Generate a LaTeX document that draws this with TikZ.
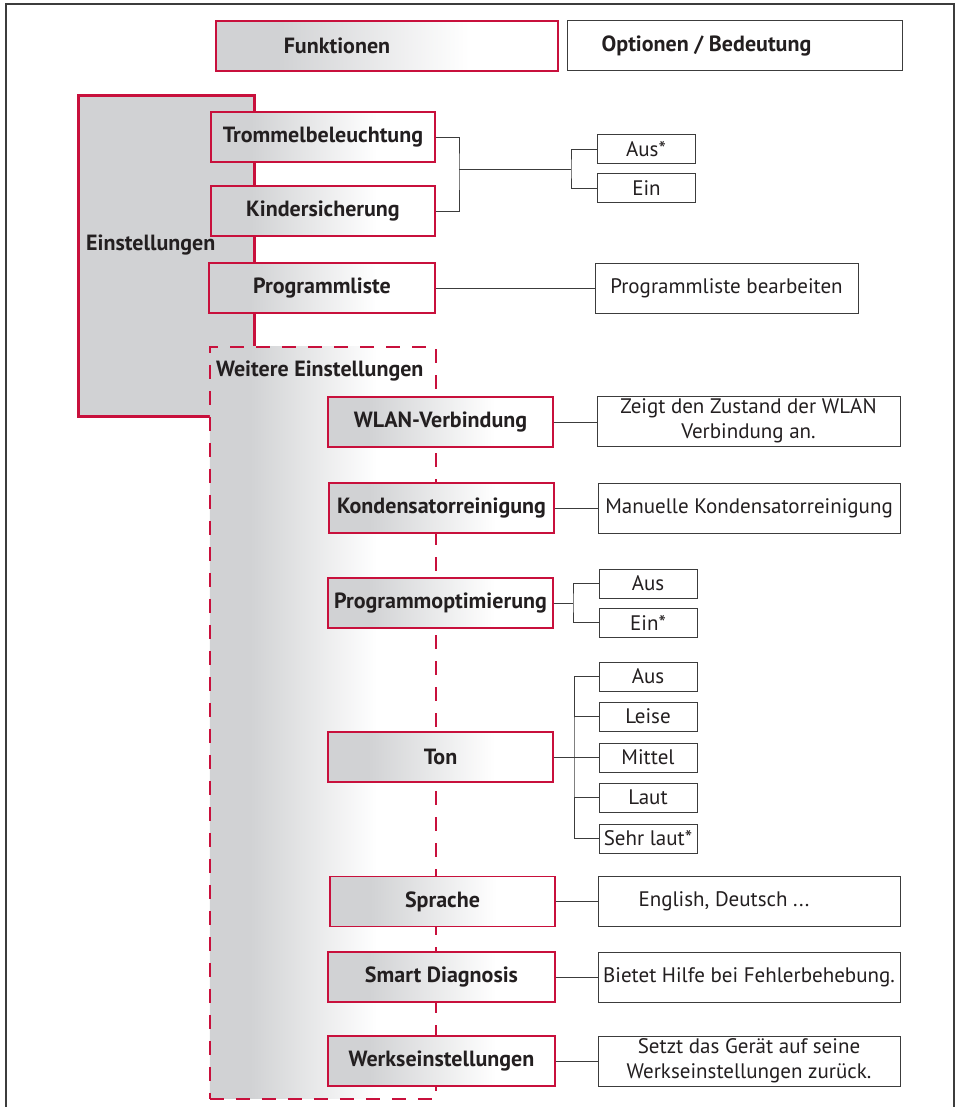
\documentclass[tikz,border=0pt]{standalone}
\usepackage{fontspec}
\setmainfont{PT Sans}
\definecolor{lgred}{RGB}{200,16,60}
\definecolor{lgray}{RGB}{209,210,212}
\definecolor{dgray}{RGB}{60,60,60}
\definecolor{txt}{RGB}{35,31,32}
\pgfdeclarehorizontalshading{boxgrad}{100bp}{color(0bp)=(lgray); color(34bp)=(lgray); color(62bp)=(white); color(100bp)=(white)}
\newcommand{\lgfs}{\fontsize{21}{25}\selectfont}
\newcommand{\lgfb}{\fontsize{22}{26}\selectfont\bfseries}
\begin{document}
\begin{tikzpicture}[x=1pt,y=-1pt,
  fbox/.style={shade, shading=boxgrad, draw=lgred, line width=1.4pt, minimum width=225pt, minimum height=50pt, inner sep=0pt, font=\lgfb, text=txt},
  obox/.style={fill=white, draw=dgray, line width=1pt, minimum width=302pt, minimum height=50pt, inner sep=0pt, font=\lgfs, text=txt, align=center},
  sbox/.style={obox, minimum width=98pt, minimum height=29pt},
  conn/.style={draw=dgray, line width=0.9pt}]
\useasboundingbox (0,0) rectangle (959,1107);
\fill[white] (0,0) rectangle (959,1107);
% outer frame
\draw[dgray, line width=1.5pt] (6,1107) -- (6,4) -- (954,4) -- (954,1107);
% header
\node[fbox, minimum width=342pt] (hfun) at (387,46) {Funktionen\hspace*{100pt}};
\node[obox, font=\lgfb, minimum width=335pt] (hopt) at (734.5,46) {Optionen / Bedeutung\hspace*{56pt}};
% Einstellungen
\node[draw=lgred, line width=3pt, fill=lgray, minimum width=176pt, minimum height=321pt, anchor=north west, inner sep=0pt] (einst) at (77,94) {};
\node[anchor=west, font=\lgfb, text=txt, inner sep=0pt] (einstlbl) at (86,245) {Einstellungen};
% Weitere Einstellungen (dashed)
\node[shade, shading=boxgrad, draw=lgred, line width=1.5pt, dash pattern=on 14pt off 12pt, minimum width=226pt, minimum height=752pt, anchor=north west, inner sep=0pt] (weit) at (209,346) {};
\node[anchor=west, font=\lgfb, text=txt, inner sep=0pt] (weitlbl) at (216,371) {Weitere Einstellungen};
% function boxes
\node[fbox, minimum width=224pt] (trom) at (323,137) {Trommelbeleuchtung};
\node[fbox, minimum width=224pt] (kind) at (323,211) {Kindersicherung};
\node[fbox, minimum width=226pt] (prog) at (322,288) {Programmliste};
\node[fbox] (wlan) at (440.5,422) {WLAN-Verbindung};
\node[fbox] (kond) at (441.5,508) {Kondensatorreinigung};
\node[fbox] (popt) at (440.5,603) {Programmoptimierung};
\node[fbox] (ton) at (440.5,757) {Ton};
\node[fbox] (spr) at (442.5,901.5) {Sprache};
\node[fbox, minimum width=227pt] (smd) at (441.5,977) {Smart Diagnosis};
\node[fbox, minimum width=227pt] (wrk) at (441.5,1061) {Werkseinstellungen};
% option boxes
\node[sbox] (aus1) at (646,149.5) {Aus*};
\node[sbox] (ein1) at (646.5,188.5) {Ein};
\node[obox, minimum width=263pt] (plb) at (726.5,288) {Programmliste bearbeiten};
\node[obox, minimum width=303pt] (wlanT) at (748.5,421) {Zeigt den Zustand der WLAN\\Verbindung an.};
\node[obox] (kondT) at (749,508) {Manuelle Kondensatorreinigung};
\node[sbox] (pa) at (648,583.5) {Aus};
\node[sbox] (pe) at (648,622.5) {Ein*};
\node[sbox] (t1) at (648,676.5) {Aus};
\node[sbox] (t2) at (648,716.5) {Leise};
\node[sbox] (t3) at (648,757.5) {Mittel};
\node[sbox] (t4) at (648,797.5) {Laut};
\node[sbox] (t5) at (648,838.5) {Sehr laut*};
\node[obox] (sprT) at (749,901) {English, Deutsch ...\hspace*{50pt}};
\node[obox] (smdT) at (749,977) {Bietet Hilfe bei Fehlerbehebung.};
\node[obox] (wrkT) at (749,1061) {Setzt das Gerät auf seine\\Werkseinstellungen zurück.};
% connectors
\coordinate (j1) at (459,169);
\coordinate (j2) at (571,169);
\draw[conn] (trom.east) -| (j1) |- (kind.east);
\draw[conn] (j1) -- (j2);
\draw[conn] (aus1.west) -| (j2) |- (ein1.west);
\draw[conn] (prog.east) -- (plb.west);
\draw[conn] (wlan.east) -- (wlan.east -| wlanT.west);
\draw[conn] (kond.east) -- (kondT.west);
\coordinate (pj) at (573,603);
\draw[conn] (popt.east) -- (pj);
\draw[conn] (pa.west) -| (pj) |- (pe.west);
\coordinate (tj) at (574,757);
\draw[conn] (ton.east) -- (tj);
\draw[conn] (t1.west) -| (tj) |- (t5.west);
\draw[conn] (tj |- t2.west) -- (t2.west);
\draw[conn] (tj |- t3.west) -- (t3.west);
\draw[conn] (tj |- t4.west) -- (t4.west);
\draw[conn] (spr.east) -- (spr.east -| sprT.west);
\draw[conn] (smd.east) -- (smdT.west);
\draw[conn] (wrk.east) -- (wrkT.west);
\end{tikzpicture}
\end{document}
